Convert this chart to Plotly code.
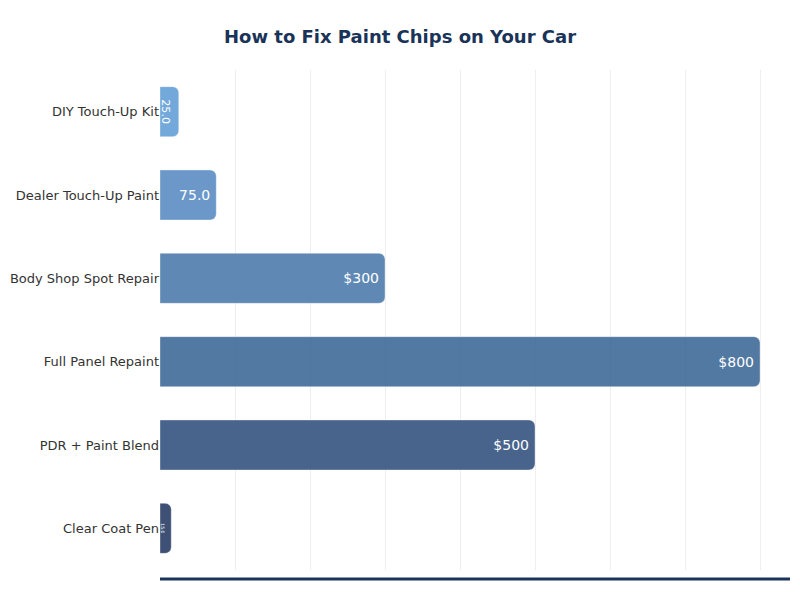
import plotly.graph_objects as go

# Repair options and rough cost (USD)
methods = ["DIY Touch-Up Kit", "Dealer Touch-Up Paint", "Body Shop Spot Repair",
           "Full Panel Repaint", "PDR + Paint Blend", "Clear Coat Pen"]
costs = [25, 75, 300, 800, 500, 15]
labels = ["25.0", "75.0", "$300", "$800", "$500", "15.0"]
colors = ["#69a2d9", "#6091c5", "#5381af", "#456f9b", "#3b5984", "#30446b"]

fig = go.Figure(go.Bar(
    y=methods,
    x=costs,
    orientation="h",
    text=labels,
    textposition="inside",
    insidetextanchor="end",
    textfont=dict(color="white", size=14, family="DejaVu Sans"),
    marker=dict(color=colors, opacity=0.93,
                line=dict(color="rgba(255,255,255,0.35)", width=1)),
    hoverinfo="skip",
))

fig.update_layout(
    width=800, height=600,
    paper_bgcolor="white", plot_bgcolor="white",
    font=dict(family="DejaVu Sans", size=13, color="#333333"),
    title=dict(text="<b>How to Fix Paint Chips on Your Car</b>", x=0.49, xanchor="center",
               y=0.952, yanchor="middle",
               font=dict(size=18, color="#1a3358", family="DejaVu Sans")),
    margin=dict(l=152, r=18, t=62, b=38),
    bargap=0.4,
    barcornerradius=6,
    showlegend=False,
    shapes=[dict(type="line", xref="paper", yref="paper", x0=0, x1=1, y0=-0.018, y1=-0.018,
                 line=dict(color="#1a3358", width=3))],
)
fig.update_xaxes(range=[0, 840], dtick=100, showgrid=True, gridcolor="#eeeeee", gridwidth=1,
                 showticklabels=False, zeroline=False, showline=False)
fig.update_yaxes(autorange="reversed", showgrid=False, ticks="", automargin=False,
                 ticklabelstandoff=0)

fig.write_html("out.html")
